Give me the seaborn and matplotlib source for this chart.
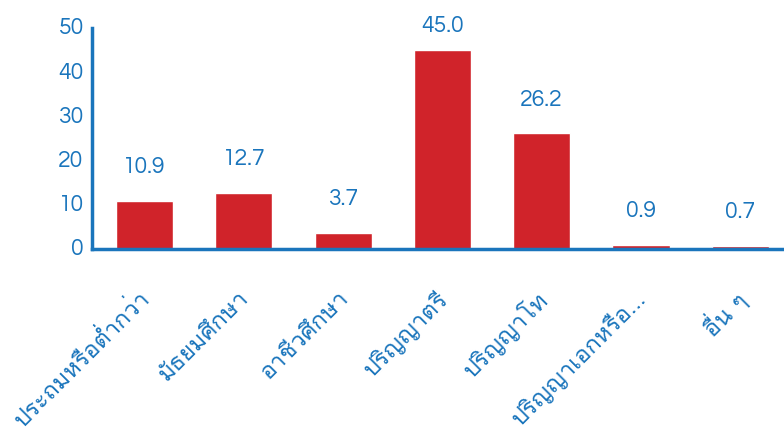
import matplotlib
matplotlib.use("Agg")
import matplotlib.pyplot as plt
import matplotlib.transforms as mtransforms
import pandas as pd
import seaborn as sns

categories = ["ประถมหรือต่ำกว่า", "มัธยมศึกษา", "อาชีวศึกษา", "ปริญญาตรี",
              "ปริญญาโท", "ปริญญาเอกหรือ...", "อื่น ๆ"]
values = [10.9, 12.7, 3.7, 45.0, 26.2, 0.9, 0.7]
y_ticks = [0, 10, 20, 30, 40, 50]

BLUE = "#1a75bc"
RED = "#d0232a"
NUM_FONT = ["Questrial", "Didact Gothic", "DejaVu Sans"]
THAI_FONT = ["Loma", "DejaVu Sans"]

sns.set_style("white")
plt.rcParams["font.family"] = THAI_FONT

df = pd.DataFrame({"level": categories, "pct": values})

fig = plt.figure(figsize=(7.84, 4.35), dpi=100)
ax = fig.add_axes([92 / 784, (435 - 250) / 435, 1 - 92 / 784, (250 - 29) / 435])
sns.barplot(df, x="level", y="pct", color=RED, width=0.575, saturation=1, ax=ax)

ax.set_xlim(-0.53, 6.44)
ax.set_ylim(0, 50)
ax.set_yticks(y_ticks)
ax.set_xlabel("")
ax.set_ylabel("")

for side in ["top", "right"]:
    ax.spines[side].set_visible(False)
for side in ["left", "bottom"]:
    ax.spines[side].set_color(BLUE)
    ax.spines[side].set_linewidth(2.5)

ax.tick_params(axis="y", length=0, pad=6, labelsize=16.5, labelcolor=BLUE)
ax.tick_params(axis="x", length=0, pad=26, labelsize=17, labelcolor=BLUE)
up = mtransforms.ScaledTranslation(0, 3 / 100, fig.dpi_scale_trans)
for lbl in ax.get_yticklabels():
    lbl.set_family(NUM_FONT)
    lbl.set_transform(lbl.get_transform() + up)
shift = mtransforms.ScaledTranslation(-7 / 100, 0, fig.dpi_scale_trans)
for lbl in ax.get_xticklabels():
    lbl.set_rotation(45)
    lbl.set_ha("right")
    lbl.set_rotation_mode("anchor")
    lbl.set_transform(lbl.get_transform() + shift)

for bar in ax.containers:
    anns = ax.bar_label(bar, fmt="%.1f", padding=17, fontsize=16.5, color=BLUE, family=NUM_FONT)
    # tallest bar's label sits closer to the bar, as in the original
    for ann, v in zip(anns, values):
        if v >= 40:
            ann.xyann = (0, 10)

fig.savefig("out.png")
plt.close()
